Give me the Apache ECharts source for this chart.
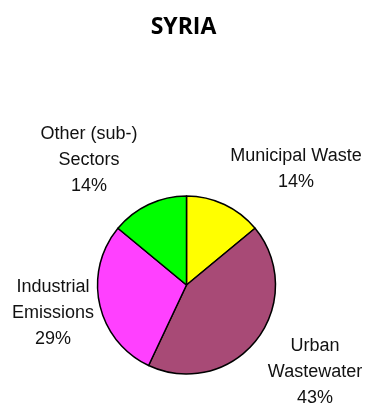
<!DOCTYPE html>
<html>
<head>
<meta charset="utf-8">
<script src="https://cdn.jsdelivr.net/npm/echarts@6/dist/echarts.min.js"></script>
<style>
  html, body { margin: 0; padding: 0; background: #fff; }
  #main { width: 367px; height: 404px; }
</style>
</head>
<body>
<div id="main"></div>
<script>
// sectors, clockwise from 12 o'clock
const sectors = ["Municipal Waste", "Urban\nWastewater", "Industrial\nEmissions", "Other (sub-)\nSectors"]
const shares = [14, 43, 29, 14]
const colors = ["#ffff00", "#a84a76", "#ff40ff", "#00ff00"]
// where each label block sits (centre of the text)
const labelPos = [[296, 169], [315, 372], [53, 313], [89, 160]]

let chart = echarts.init(document.getElementById("main"))
chart.setOption({
  animation: false,
  title: {
    text: "SYRIA",
    left: "center",
    top: 11,
    textStyle: {
      fontFamily: "Open Sans",
      fontWeight: "bold",
      fontSize: 23,
      color: "#000"
    }
  },
  series: [
    {
      type: "pie",
      center: [186.5, 285],
      radius: 89,
      startAngle: 90,
      clockwise: true,
      itemStyle: {
        borderColor: "#000",
        borderWidth: 1.5
      },
      label: {
        show: true,
        position: "outside",
        formatter: "{b}\n{d}%",
        fontFamily: "Liberation Sans",
        fontSize: 18,
        lineHeight: 25.7,
        color: "#111",
        align: "center",
        overflow: "none"
      },
      labelLine: { show: false },
      labelLayout: function (p) {
        let pos = labelPos[p.dataIndex]
        return { x: pos[0], y: pos[1], align: "center", verticalAlign: "middle", hideOverlap: false }
      },
      emphasis: { disabled: true },
      data: sectors.map((name, i) => ({
        name: name,
        value: shares[i],
        itemStyle: { color: colors[i] }
      }))
    }
  ]
})
</script>
</body>
</html>
